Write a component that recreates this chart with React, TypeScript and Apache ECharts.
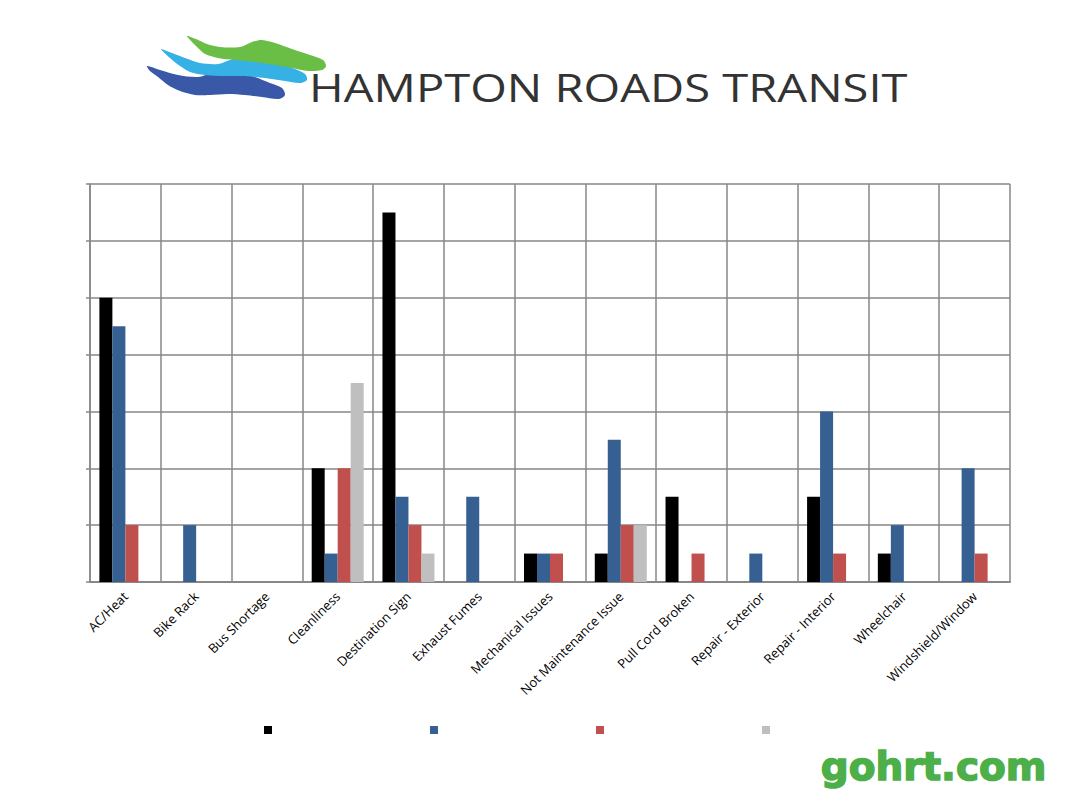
import React, { useEffect, useRef } from "react";
import * as echarts from "echarts";

const categories = [
  "AC/Heat",
  "Bike Rack",
  "Bus Shortage",
  "Cleanliness",
  "Destination Sign",
  "Exhaust Fumes",
  "Mechanical Issues",
  "Not Maintenance Issue",
  "Pull Cord Broken",
  "Repair - Exterior",
  "Repair - Interior",
  "Wheelchair",
  "Windshield/Window",
];

const seriesNames = ["Series 1", "Series 2", "Series 3", "Series 4"];
const seriesColors = ["#000000", "#376092", "#c0504d", "#bfbfbf"];

const series1 = [10, 0, 0, 4, 13, 0, 1, 1, 3, 0, 3, 1, 0];
const series2 = [9, 2, 0, 1, 3, 3, 1, 5, 0, 1, 6, 2, 4];
const series3 = [2, 0, 0, 4, 2, 0, 1, 2, 1, 0, 1, 0, 1];
const series4 = [0, 0, 0, 7, 1, 0, 0, 2, 0, 0, 0, 0, 0];

const seriesValues = [series1, series2, series3, series4];

const yMin = 0;
const yMax = 14;
const yInterval = 2;

// Logo swoosh outlines (decoration)
const greenSwoosh = [
  [187, 36], [196, 39], [207, 44], [220, 47], [240, 47], [252, 42], [262, 40],
  [275, 43], [292, 49], [310, 55], [323, 60], [326, 66], [322, 70], [308, 71],
  [292, 68], [275, 65], [255, 62], [235, 60], [218, 58], [205, 54], [198, 48], [192, 42],
];
const lightBlueSwoosh = [
  [161, 49], [172, 53], [185, 58], [200, 63], [218, 64], [230, 60], [242, 56],
  [258, 58], [278, 63], [295, 69], [305, 74], [307, 80], [300, 83], [285, 81],
  [265, 78], [245, 76], [225, 76], [205, 75], [190, 72], [180, 66], [170, 58],
];
const darkBlueSwoosh = [
  [147, 66], [160, 70], [178, 75], [198, 77], [212, 73], [222, 70], [238, 72],
  [255, 77], [270, 83], [282, 88], [285, 95], [279, 99], [262, 97], [245, 95],
  [228, 94], [210, 95], [195, 95], [180, 91], [168, 85], [158, 77], [150, 71],
];

export default function App() {
  const ref = useRef<HTMLDivElement>(null);

  useEffect(() => {
    if (!ref.current) return;
    const chart = echarts.init(ref.current, null, { renderer: "svg" });
    const gridColor = "#878787";

    chart.setOption({
      animation: false,
      backgroundColor: "#ffffff",
      grid: { left: 90, right: 70, top: 184, bottom: 228, containLabel: false },
      legend: {
        data: seriesNames,
        left: 259,
        top: 721,
        itemWidth: 8,
        itemHeight: 8,
        itemGap: 158,
        icon: "rect",
        formatter: () => "",
        selectedMode: false,
      },
      xAxis: {
        type: "category",
        data: categories,
        boundaryGap: true,
        axisLine: { show: true, lineStyle: { color: gridColor, width: 2 } },
        axisTick: { show: false },
        splitLine: { show: true, interval: 0, lineStyle: { color: gridColor, width: 1.5 } },
        axisLabel: {
          interval: 0,
          rotate: 45,
          margin: 12,
          color: "#000000",
          fontFamily: "Open Sans",
          fontSize: 13,
        },
      },
      yAxis: {
        type: "value",
        min: yMin,
        max: yMax,
        interval: yInterval,
        axisLine: { show: true, lineStyle: { color: gridColor, width: 1.5 } },
        axisTick: { show: true, length: 4, lineStyle: { color: gridColor, width: 1.5 } },
        axisLabel: { show: false },
        splitLine: { show: true, lineStyle: { color: gridColor, width: 1.5 } },
      },
      series: seriesNames.map((name, i) => ({
        name,
        type: "bar",
        data: seriesValues[i],
        barWidth: 13,
        barGap: "0%",
        itemStyle: { color: seriesColors[i] },
      })),
      graphic: [
        { type: "polygon", shape: { points: darkBlueSwoosh, smooth: 0.3 }, style: { fill: "#3a58a8" } },
        { type: "polygon", shape: { points: lightBlueSwoosh, smooth: 0.3 }, style: { fill: "#35b1e6" } },
        { type: "polygon", shape: { points: greenSwoosh, smooth: 0.3 }, style: { fill: "#6abd45" } },
        {
          type: "text",
          left: 309,
          top: 68,
          scaleX: 1.24,
          style: {
            text: "HAMPTON ROADS TRANSIT",
            fill: "#333333",
            font: 'normal 38px "Open Sans"',
          },
        },
        {
          type: "text",
          left: 820,
          top: 746,
          style: {
            text: "gohrt.com",
            fill: "#4daf4a",
            stroke: "#4daf4a",
            lineWidth: 1.5,
            font: 'bold 39px "DejaVu Sans"',
          },
        },
      ],
    });

    return () => chart.dispose();
  }, []);

  return (
    <div
      ref={ref}
      style={{ position: "fixed", left: 0, top: 0, width: 1080, height: 810 }}
    />
  );
}
